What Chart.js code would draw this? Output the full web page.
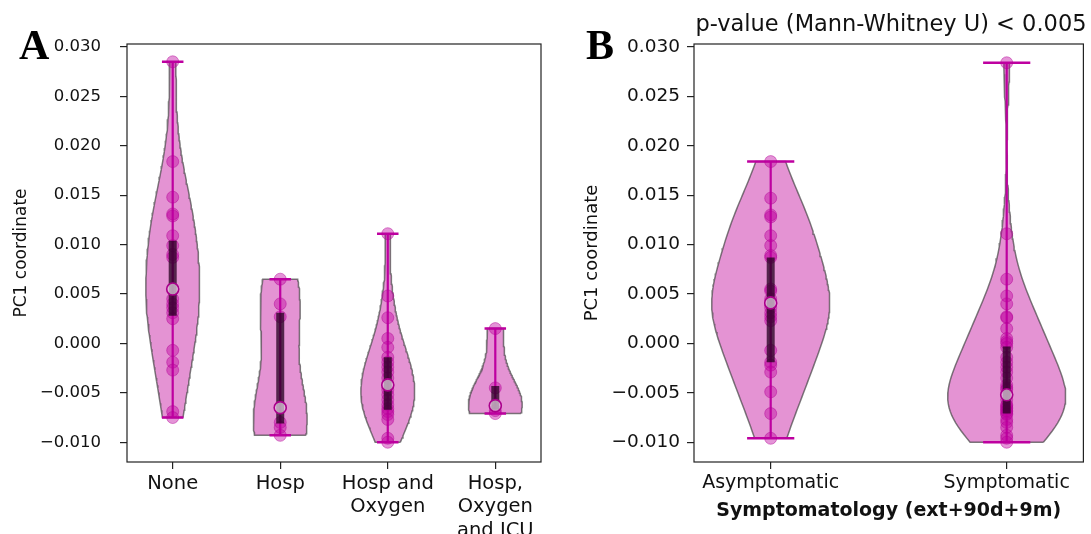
<!DOCTYPE html>
<html>
<head>
<meta charset="utf-8">
<script src="https://cdn.jsdelivr.net/npm/chart.js@4.4.1/dist/chart.umd.min.js"></script>
<style>
  body { margin: 0; background: #fff; }
  #fig { position: relative; width: 1091px; height: 534px; overflow: hidden; font-family: "DejaVu Sans", sans-serif; }
  canvas { position: absolute; top: 0; }
  .panel { position: absolute; font-family: "Liberation Serif", serif; font-weight: bold; font-size: 42px; line-height: 42px; color: #000; }
  #ptitle { position: absolute; left: 694px; width: 394px; top: 9px; text-align: center; font-size: 22.5px; line-height: 28px; color: #111; white-space: nowrap; }
</style>
</head>
<body>
<div id="fig">
  <canvas id="chartA" width="560" height="534" style="left:0"></canvas>
  <canvas id="chartB" width="531" height="534" style="left:560px"></canvas>
  <div class="panel" style="left:19px;top:24px">A</div>
  <div class="panel" style="left:586px;top:24px">B</div>
  <div id="ptitle">p-value (Mann-Whitney U) &lt; 0.005</div>
</div>
<script>
// values
const categoriesA = ["None", "Hosp", ["Hosp and", "Oxygen"], ["Hosp,", "Oxygen", "and ICU"]];
const pointsNone = [0.0285, 0.0184, 0.0148, 0.0131, 0.0129, 0.0109, 0.0099, 0.0090, 0.0087, 0.0055,
  0.0045, 0.0040, 0.0036, 0.0031, 0.0025, -0.0007, -0.0019, -0.0027, -0.0069, -0.0075];
const pointsHosp = [0.0065, 0.0040, 0.0027, -0.0065, -0.0080, -0.0085, -0.0093];
const pointsHospOxy = [0.0111, 0.0048, 0.0026, 0.0005, -0.0004, -0.0014, -0.0019, -0.0024, -0.0029, -0.0035,
  -0.0042, -0.0047, -0.0052, -0.0057, -0.0062, -0.0066, -0.0069, -0.0072, -0.0077, -0.0096, -0.0100];
const pointsIcu = [0.0015, -0.0045, -0.0063, -0.0068, -0.0071];
const mediansA = [0.0055, -0.0065, -0.0042, -0.0063];
const q1A = [0.0028, -0.0081, -0.0067, -0.0067];
const q3A = [0.0104, 0.0031, -0.0014, -0.0043];

const categoriesB = ["Asymptomatic", "Symptomatic"];
const pointsAsym = [0.0184, 0.0147, 0.0130, 0.0128, 0.0109, 0.0099, 0.0089, 0.0087, 0.0055, 0.0053, 0.0045,
  0.0040, 0.0036, 0.0031, 0.0027, 0.0023, -0.0007, -0.0019, -0.0022, -0.0029, -0.0049, -0.0071, -0.0096];
const pointsSym = [0.0284, 0.0111, 0.0065, 0.0048, 0.0040, 0.0027, 0.0026, 0.0015, 0.0005, 0.0002, 0.0000,
  -0.0004, -0.0014, -0.0019, -0.0024, -0.0029, -0.0035, -0.0042, -0.0045, -0.0047, -0.0052, -0.0057,
  -0.0062, -0.0063, -0.0065, -0.0066, -0.0068, -0.0069, -0.0071, -0.0072, -0.0077, -0.0080, -0.0085,
  -0.0093, -0.0096, -0.0100];
const mediansB = [0.0041, -0.0052];
const q1B = [-0.0019, -0.0071];
const q3B = [0.0087, -0.0003];

const yTicks = [-0.010, -0.005, 0.000, 0.005, 0.010, 0.015, 0.020, 0.025, 0.030];

const FONT = "DejaVu Sans";
const MAGENTA = 'rgb(190,0,160)';

// gaussian kde outline (scott bandwidth), cut at data min/max like matplotlib
function violinPath(values, pos) {
  const n = values.length;
  const mean = values.reduce((a, b) => a + b, 0) / n;
  const sd = Math.sqrt(values.reduce((a, v) => a + (v - mean) ** 2, 0) / (n - 1));
  const bw = sd * Math.pow(n, -0.2);
  const lo = Math.min(...values), hi = Math.max(...values);
  const ys = [], dens = [];
  for (let i = 0; i < 100; i++) {
    const y = lo + (hi - lo) * i / 99;
    let d = 0;
    values.forEach(v => { const z = (y - v) / bw; d += Math.exp(-0.5 * z * z); });
    ys.push(y);
    dens.push(d);
  }
  const peak = Math.max(...dens);
  const right = ys.map((y, i) => ({ x: pos + 0.25 * dens[i] / peak, y }));
  const left = ys.map((y, i) => ({ x: pos - 0.25 * dens[i] / peak, y })).reverse();
  return right.concat(left, [right[0]]);
}

function buildDatasets(groups, medians, q1, q3) {
  const ds = [];
  groups.forEach((vals, i) => {
    ds.push({
      data: violinPath(vals, i + 1), fill: 'shape',
      backgroundColor: 'rgba(201,39,167,0.5)', borderColor: 'rgba(70,70,70,0.7)', borderWidth: 1.5,
      pointRadius: 0, tension: 0, order: 6
    });
  });
  const stems = [], caps = [], boxes = [], pts = [], meds = [];
  groups.forEach((vals, i) => {
    const x = i + 1, lo = Math.min(...vals), hi = Math.max(...vals);
    stems.push({ x, y: lo }, { x, y: hi }, { x, y: null });
    caps.push({ x: x - 0.1, y: lo }, { x: x + 0.1, y: lo }, { x, y: null },
              { x: x - 0.1, y: hi }, { x: x + 0.1, y: hi }, { x, y: null });
    boxes.push({ x, y: q1[i] }, { x, y: q3[i] }, { x, y: null });
    vals.forEach(v => pts.push({ x, y: v }));
    meds.push({ x, y: medians[i] });
  });
  ds.push({ data: stems, borderColor: MAGENTA, borderWidth: 2.2, pointRadius: 0, spanGaps: false, order: 5 });
  ds.push({ data: caps, borderColor: MAGENTA, borderWidth: 2.5, pointRadius: 0, spanGaps: false, order: 5 });
  ds.push({ data: pts, showLine: false, pointRadius: 6, backgroundColor: 'rgba(190,0,160,0.42)',
            borderColor: 'rgba(180,0,150,0.45)', borderWidth: 1, order: 4 });
  ds.push({ data: boxes, borderColor: 'rgba(35,0,30,0.75)', borderWidth: 8, borderCapStyle: 'butt',
            pointRadius: 0, spanGaps: false, order: 3 });
  ds.push({ data: meds, showLine: false, pointRadius: 6, backgroundColor: 'rgba(255,255,255,0.6)',
            borderColor: 'rgb(170,0,140)', borderWidth: 1.6, order: 2 });
  return ds;
}

const framePlugin = {
  id: 'frame',
  afterDatasetsDraw(chart) {
    const { ctx, chartArea: a } = chart;
    ctx.save();
    ctx.strokeStyle = '#222';
    ctx.lineWidth = 1.2;
    ctx.strokeRect(a.left, a.top, a.right - a.left, a.bottom - a.top);
    ctx.restore();
  }
};

function makeScales(p) {
  return {
    x: {
      type: 'linear', min: p.xmin, max: p.xmax,
      afterBuildTicks: s => { s.ticks = p.labels.map((_, i) => ({ value: i + 1 })); },
      afterFit: s => { s.height = 72; },
      ticks: { autoSkip: false, maxRotation: 0, padding: 3, color: '#111',
               font: { family: FONT, size: p.xFont, lineHeight: 1.2 }, callback: v => p.labels[v - 1] },
      grid: { drawOnChartArea: false, tickLength: 7, color: '#222', lineWidth: 1.2 },
      border: { display: false },
      title: p.xTitle ? { display: true, text: p.xTitle, color: '#111', padding: { top: 0, bottom: 12 },
                          font: { family: FONT, size: 19, weight: 'bold' } } : { display: false }
    },
    y: {
      min: -0.0120, max: 0.0303,
      afterBuildTicks: s => { s.ticks = yTicks.map(v => ({ value: v })); },
      afterFit: s => { s.width = p.yWidth; },
      ticks: { padding: p.yPad, color: '#111', font: { family: FONT, size: p.yFont },
               callback: v => v.toFixed(3).replace('-', '\u2212') },
      grid: { drawOnChartArea: false, tickLength: 7, color: '#222', lineWidth: 1.2 },
      border: { display: false },
      title: { display: true, text: 'PC1 coordinate', color: '#111', padding: 0,
               font: { family: FONT, size: p.yTitleFont } }
    }
  };
}

function makeChart(id, groups, medians, q1, q3, p) {
  return new Chart(document.getElementById(id), {
    type: 'line',
    data: { datasets: buildDatasets(groups, medians, q1, q3) },
    options: {
      responsive: false, animation: false,
      layout: { padding: p.padding },
      plugins: { legend: { display: false }, tooltip: { enabled: false } },
      scales: makeScales(p)
    },
    plugins: [framePlugin]
  });
}

makeChart('chartA', [pointsNone, pointsHosp, pointsHospOxy, pointsIcu], mediansA, q1A, q3A, {
  xmin: 0.575, xmax: 4.425, labels: categoriesA, padding: { left: 11, right: 19, top: 44, bottom: 0 },
  yWidth: 116, yPad: 19, yFont: 16.5, yTitleFont: 17, xFont: 19.5, xTitle: null
});
makeChart('chartB', [pointsAsym, pointsSym], mediansB, q1B, q3B, {
  xmin: 0.675, xmax: 2.325, labels: categoriesB, padding: { left: 22, right: 3, top: 44, bottom: 0 },
  yWidth: 112, yPad: 7, yFont: 18.5, yTitleFont: 18, xFont: 19, xTitle: 'Symptomatology (ext+90d+9m)'
});
</script>
</body>
</html>
